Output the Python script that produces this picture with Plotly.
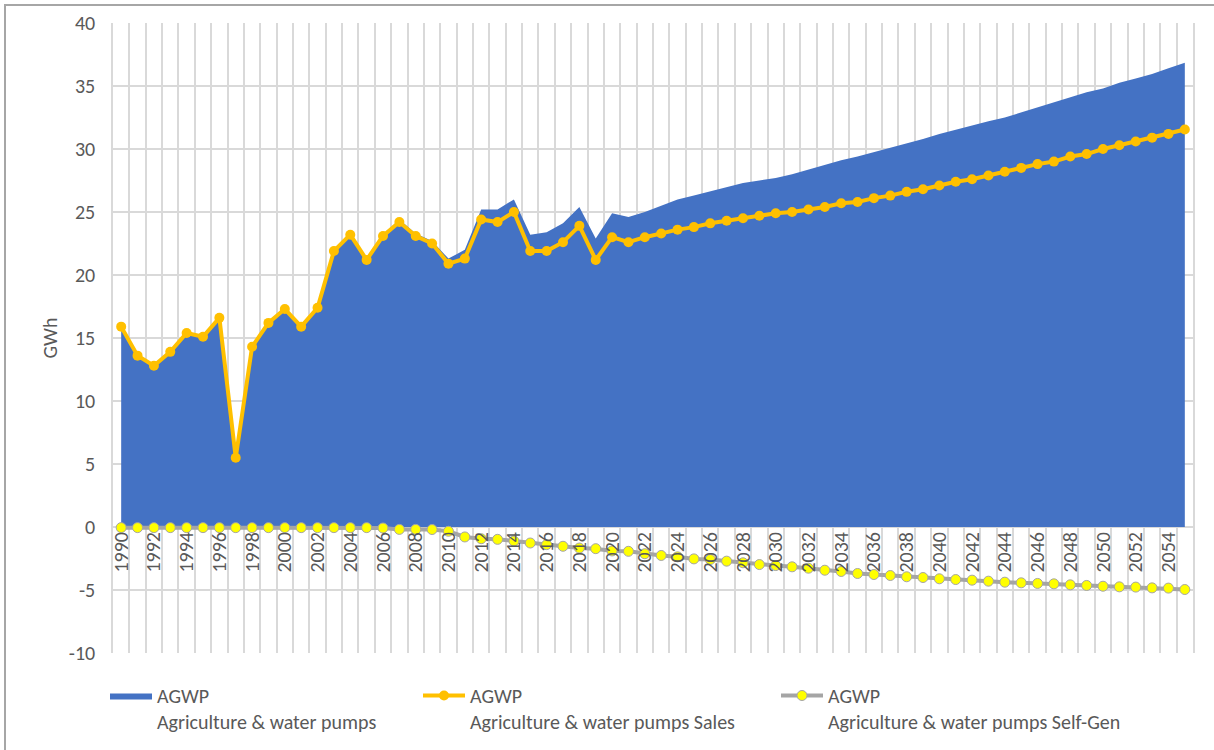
import plotly.graph_objects as go

years = list(range(1990, 2056))
tick_years = list(range(1990, 2056, 2))
tick_labels = [str(y) for y in tick_years]
y_ticks = [-10, -5, 0, 5, 10, 15, 20, 25, 30, 35, 40]
y_tick_labels = ["-10", "-5", "0", "5", "10", "15", "20", "25", "30", "35", "40"]

total_agwp = [15.95, 13.65, 12.85, 13.95, 15.45, 15.15, 16.65, 5.55, 14.35, 16.25,
              17.35, 15.95, 17.45, 21.95, 23.25, 21.25, 23.2, 24.4, 23.3, 22.7,
              21.3, 22.0, 25.2, 25.2, 26.0, 23.2, 23.4, 24.1, 25.4, 22.9,
              24.9, 24.6, 25.0, 25.5, 25.99, 26.3, 26.65, 26.97, 27.3, 27.5,
              27.7, 28.0, 28.37, 28.7, 29.1, 29.4, 29.75, 30.1, 30.4, 30.8,
              31.2, 31.55, 31.9, 32.2, 32.5, 32.9, 33.3, 33.7, 34.1, 34.5,
              34.8, 35.25, 35.6, 35.96, 36.4, 36.84]

sales = [15.9, 13.6, 12.8, 13.9, 15.4, 15.1, 16.6, 5.5, 14.3, 16.2,
         17.3, 15.9, 17.4, 21.9, 23.2, 21.2, 23.1, 24.2, 23.1, 22.5,
         20.9, 21.3, 24.4, 24.2, 25.0, 21.9, 21.9, 22.6, 23.9, 21.2,
         23.0, 22.6, 23.0, 23.3, 23.6, 23.8, 24.1, 24.3, 24.5, 24.7,
         24.9, 25.0, 25.2, 25.4, 25.7, 25.8, 26.1, 26.3, 26.6, 26.8,
         27.1, 27.4, 27.6, 27.9, 28.2, 28.5, 28.8, 29.0, 29.4, 29.6,
         30.0, 30.3, 30.6, 30.9, 31.2, 31.55]

self_gen = [-0.05, -0.05, -0.05, -0.05, -0.05, -0.05, -0.05, -0.05, -0.05, -0.05,
            -0.05, -0.05, -0.05, -0.05, -0.05, -0.05, -0.08, -0.19, -0.19, -0.2,
            -0.34, -0.79, -0.93, -0.98, -1.11, -1.27, -1.40, -1.53, -1.67, -1.72,
            -1.90, -1.93, -2.12, -2.26, -2.37, -2.53, -2.58, -2.71, -2.84, -2.98,
            -3.06, -3.16, -3.27, -3.43, -3.53, -3.69, -3.77, -3.85, -3.95, -4.01,
            -4.11, -4.17, -4.22, -4.30, -4.38, -4.43, -4.48, -4.51, -4.59, -4.64,
            -4.70, -4.75, -4.77, -4.83, -4.85, -4.96]

assert len(years) == len(total_agwp) == len(sales) == len(self_gen)

FONT = "Calibri, Carlito, Roboto, sans-serif"
TXT = "#595959"
GRID = "#D9D9D9"
FS = 20

fig = go.Figure()
fig.add_trace(go.Scatter(
    x=years, y=total_agwp, mode="lines", fill="tozeroy",
    line=dict(color="#4472C4", width=0), fillcolor="#4472C4",
    name="AGWP<br>Agriculture & water pumps", legend="legend", showlegend=True))
fig.add_trace(go.Scatter(
    x=years, y=sales, mode="lines+markers",
    line=dict(color="#FFC000", width=4),
    marker=dict(color="#FFC000", size=10),
    name="AGWP<br>Agriculture & water pumps Sales", legend="legend2", showlegend=True))
fig.add_trace(go.Scatter(
    x=years, y=self_gen, mode="lines+markers",
    line=dict(color="#A5A5A5", width=4),
    marker=dict(color="#FFFF00", size=10, line=dict(color="#A5A5A5", width=1)),
    name="AGWP<br>Agriculture & water pumps Self-Gen", legend="legend3", showlegend=True))

L, R, T, B = 113, 21, 23, 97
W, H = 1214, 750
pw, ph = W - L - R, H - T - B

def px_x(px):
    return (px - L) / pw

def px_y(py):
    return (H - B - py) / ph

leg_common = dict(orientation="h", xanchor="left", yanchor="top", valign="top",
                  font=dict(family=FONT, size=FS, color=TXT), itemwidth=42,
                  bgcolor="rgba(0,0,0,0)", visible=True)

fig.update_layout(
    width=W, height=H,
    margin=dict(l=L, r=R, t=T, b=B, autoexpand=False),
    showlegend=True,
    plot_bgcolor="white", paper_bgcolor="white",
    font=dict(family=FONT, size=FS, color=TXT),
    legend=dict(x=px_x(105), y=px_y(676), **leg_common),
    legend2=dict(x=px_x(418), y=px_y(676), **leg_common),
    legend3=dict(x=px_x(776), y=px_y(676), **leg_common),
    xaxis=dict(
        range=[1989.5, 2055.5], anchor="free", position=0.2,
        tickmode="array", tickvals=tick_years, ticktext=tick_labels,
        tickangle=-90, showgrid=False, showline=False, ticks="",
        tickfont=dict(family=FONT, size=FS, color=TXT),
        minor=dict(tick0=1989.5, dtick=1, showgrid=True, gridcolor=GRID, gridwidth=1.5),
        zeroline=False, automargin=False,
    ),
    yaxis=dict(
        range=[-10, 40], tickmode="array", tickvals=y_ticks, ticktext=y_tick_labels,
        showgrid=True, gridcolor=GRID, gridwidth=1.5,
        zeroline=True, zerolinecolor=GRID, zerolinewidth=1.5,
        showline=True, linecolor=GRID, linewidth=1.5, mirror=True,
        tickfont=dict(family=FONT, size=FS, color=TXT),
        ticklabelstandoff=12, automargin=False,
        title=dict(text="GWh", font=dict(family=FONT, size=FS, color=TXT), standoff=6),
    ),
    shapes=[dict(type="rect", xref="paper", yref="paper",
                 x0=px_x(5), x1=px_x(1240), y0=px_y(790), y1=px_y(5),
                 line=dict(color="#A6A6A6", width=2), fillcolor="rgba(0,0,0,0)",
                 layer="above")],
)

fig.write_html("out.html", config={"displayModeBar": False},
               post_script="document.body.style.margin='0';document.body.style.overflow='hidden';")
